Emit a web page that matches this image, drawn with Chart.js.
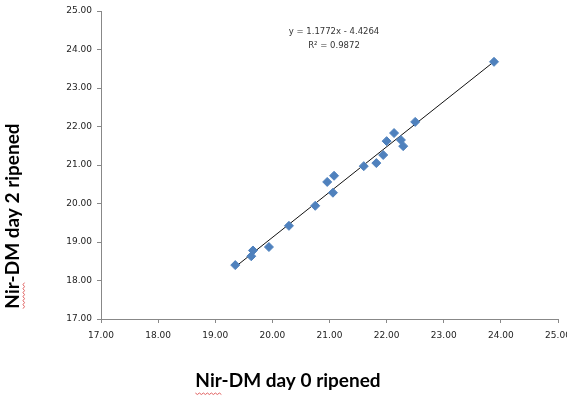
<!DOCTYPE html>
<html>
<head>
<meta charset="utf-8">
<script src="https://cdn.jsdelivr.net/npm/chart.js@4"></script>
<style>
  html, body { margin: 0; padding: 0; background: #fff; }
  #wrap { width: 567px; height: 402px; }
</style>
</head>
<body>
<div id="wrap"><canvas id="scatterChart" width="567" height="402"></canvas></div>
<script>
// day 0 vs day 2 values
const day0 = [19.35, 19.63, 19.66, 19.94, 20.29, 20.75, 20.96, 21.06, 21.08, 21.60, 21.82, 21.94, 22.00, 22.13, 22.25, 22.29, 22.50, 23.88];
const day2 = [18.40, 18.63, 18.78, 18.87, 19.42, 19.94, 20.56, 20.28, 20.72, 20.97, 21.05, 21.26, 21.62, 21.83, 21.65, 21.49, 22.12, 23.68];
const slope = 1.1772;
const intercept = -4.4264;
const rSquared = 0.9872;
const axisMin = 17;
const axisMax = 25;

const points = day0.map((x, i) => ({ x: x, y: day2[i] }));
const xLo = Math.min(...day0);
const xHi = Math.max(...day0);
const trend = [
    { x: xLo, y: slope * xLo + intercept },
    { x: xHi, y: slope * xHi + intercept }
];

// axis titles + trendline label drawn by hand, Excel style
const titlesPlugin = {
    id: 'titles',
    afterDraw(chart) {
        const ctx = chart.ctx;
        ctx.save();
        ctx.fillStyle = '#000';
        ctx.font = 'bold 19px Lato';
        ctx.textAlign = 'center';
        ctx.textBaseline = 'middle';
        const xTitle = 'Nir-DM day 0 ripened';
        ctx.fillText(xTitle, 288, 381);
        const xw = ctx.measureText(xTitle).width;
        const nirW = ctx.measureText('Nir').width;
        squiggle(ctx, 288 - xw / 2, 393, nirW);

        ctx.save();
        ctx.translate(13, 216);
        ctx.rotate(-Math.PI / 2);
        const yTitle = 'Nir-DM day 2 ripened';
        ctx.fillText(yTitle, 0, 0);
        const yw = ctx.measureText(yTitle).width;
        squiggle(ctx, -yw / 2, 10, nirW);
        ctx.restore();

        ctx.fillStyle = '#333';
        ctx.font = '8.5px "DejaVu Sans"';
        ctx.fillText('y = ' + slope + 'x - ' + Math.abs(intercept), 334, 32);
        ctx.fillText('R\u00b2 = ' + rSquared, 334, 46);
        ctx.restore();
    }
};

function squiggle(ctx, x0, y0, w) {
    ctx.save();
    ctx.strokeStyle = '#e06060';
    ctx.lineWidth = 1;
    ctx.beginPath();
    for (let x = 0; x <= w; x += 2) {
        const y = y0 + ((x / 2) % 2 === 0 ? 0 : 1.5);
        if (x === 0) ctx.moveTo(x0 + x, y); else ctx.lineTo(x0 + x, y);
    }
    ctx.stroke();
    ctx.restore();
}

const tickFont = { family: 'DejaVu Sans', size: 9 };

new Chart(document.getElementById('scatterChart'), {
    type: 'scatter',
    data: {
        datasets: [{
            label: 'data',
            data: points,
            pointStyle: 'rectRot',
            pointRadius: 4.5,
            pointBackgroundColor: '#4F81BD',
            pointBorderColor: '#4F81BD',
            pointBorderWidth: 1,
            order: 1
        }, {
            type: 'line',
            label: 'trend',
            data: trend,
            borderColor: '#111',
            borderWidth: 1,
            pointRadius: 0,
            fill: false,
            order: 2
        }]
    },
    options: {
        responsive: false,
        animation: false,
        layout: { padding: { left: 0, right: 9, top: 11, bottom: 0 } },
        plugins: {
            legend: { display: false },
            tooltip: { enabled: false }
        },
        scales: {
            x: {
                type: 'linear',
                min: axisMin,
                max: axisMax,
                ticks: {
                    stepSize: 1,
                    color: '#222',
                    font: tickFont,
                    padding: 7,
                    maxRotation: 0,
                    callback: v => v.toFixed(2)
                },
                grid: { drawOnChartArea: false, color: '#888', tickLength: 4 },
                border: { color: '#888' },
                afterFit(scale) {
                    scale.height = 83;
                    scale.paddingLeft = 0;
                    scale.paddingRight = 0;
                }
            },
            y: {
                type: 'linear',
                min: axisMin,
                max: axisMax,
                ticks: {
                    stepSize: 1,
                    color: '#222',
                    font: tickFont,
                    padding: 5,
                    callback: v => v.toFixed(2)
                },
                grid: { drawOnChartArea: false, color: '#888', tickLength: 4 },
                border: { color: '#888' },
                afterFit(scale) {
                    scale.width = 101;
                    scale.paddingTop = 0;
                    scale.paddingBottom = 0;
                }
            }
        }
    },
    plugins: [titlesPlugin]
});
</script>
</body>
</html>
